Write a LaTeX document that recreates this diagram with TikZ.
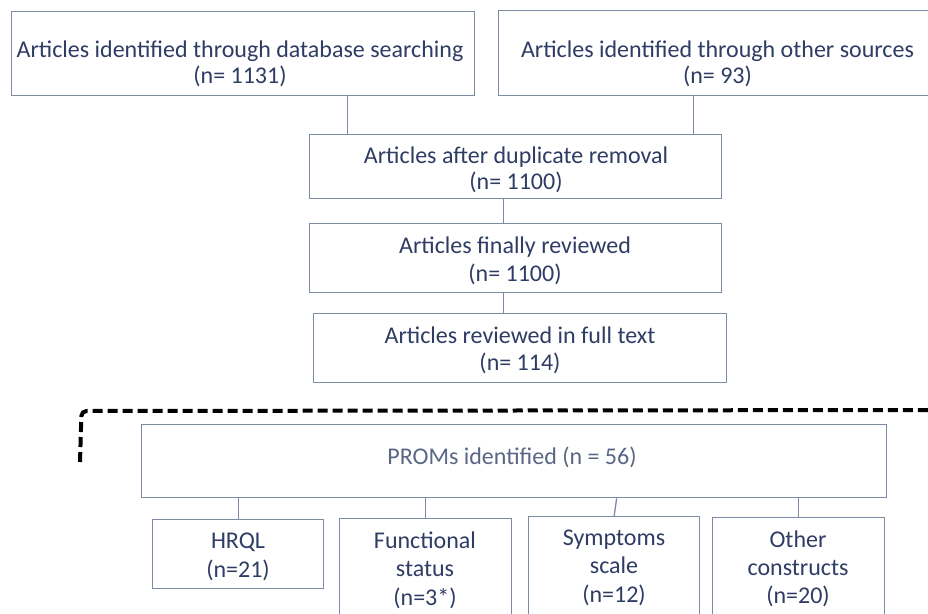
\documentclass[tikz,border=0pt]{standalone}
\usepackage{fontspec}
\setmainfont{Carlito}
\definecolor{txtc}{HTML}{2F3C64}
\definecolor{lightc}{HTML}{5A6685}
\definecolor{linec}{HTML}{7D8AA3}
\begin{document}
\begin{tikzpicture}[x=1pt,y=-1pt,
  box/.style={draw=linec, line width=1.3pt, fill=white, inner sep=0pt, anchor=north west},
  txt/.style={font=\fontsize{24}{#1}\selectfont, text=txtc, align=center, inner sep=0pt, anchor=north},
  txt/.default=27,
  conn/.style={draw=linec, line width=1.3pt},
  frame/.style={draw=black, line width=4pt, dash pattern=on 10pt off 5pt, rounded corners=5pt}]
\useasboundingbox (0,0) rectangle (928,613);
\clip (0,0) rectangle (928,613);
\fill[white] (0,0) rectangle (928,613);

% boxes
\node[box, minimum width=463pt, minimum height=84pt] (b1) at (11,11) {};
\node[box, minimum width=442pt, minimum height=85pt] (b2) at (498,10) {};
\node[box, minimum width=412pt, minimum height=64pt] (b3) at (309,134) {};
\node[box, minimum width=412pt, minimum height=69pt] (b4) at (309,223) {};
\node[box, minimum width=413pt, minimum height=69pt] (b5) at (313,313) {};
\node[box, minimum width=745pt, minimum height=73pt] (p) at (141,424) {};
\node[box, minimum width=171pt, minimum height=69pt] (s1) at (152,519) {};
\node[box, minimum width=172pt, minimum height=122pt] (s2) at (339,518) {};
\node[box, minimum width=171pt, minimum height=124pt] (s3) at (528,516) {};
\node[box, minimum width=172pt, minimum height=123pt] (s4) at (712,517) {};

% texts
\node[txt=26] (t1) at (240,38.8) {\strut Articles identified through database searching\\\strut(n= 1131)};
\node[txt=26] (t2) at (717.5,38.8) {\strut Articles identified through other sources\\\strut(n= 93)};
\node[txt=25] (t3) at (516,145.5) {\strut Articles after duplicate removal\\\strut(n= 1100)};
\node[txt=28] (t4) at (515,233.4) {\strut Articles finally reviewed\\\strut(n= 1100)};
\node[txt=27] (t5) at (520,324.1) {\strut Articles reviewed in full text\\\strut(n= 114)};
\node[txt=27, text=lightc] (tp) at (512,445.1) {\strut PROMs identified (n = 56)};
\node[txt=29] (ts1) at (238,527.7) {\strut HRQL\\\strut(n=21)};
\node[txt=28.5] (ts2) at (425,528.05) {\strut Functional\\\strut status\\\strut(n=3*)};
\node[txt=28.5] (ts3) at (614,525.05) {\strut Symptoms\\\strut scale\\\strut(n=12)};
\node[txt=28] (ts4) at (798,527.4) {\strut Other\\\strut constructs\\\strut(n=20)};

% connectors
\draw[conn] ([xshift=104.5pt]b1.south) -- ([xshift=104.5pt]b1.south |- b3.north);
\draw[conn] ([xshift=-26pt]b2.south) -- ([xshift=-26pt]b2.south |- b3.north);
\draw[conn] ([xshift=-12pt]b3.south) -- ([xshift=-12pt]b3.south |- b4.north);
\draw[conn] ([xshift=-12pt]b4.south) -- ([xshift=-12pt]b4.south |- b5.north);
\draw[conn] (s1.north |- p.south) -- (s1.north);
\draw[conn] (s2.north |- p.south) -- (s2.north);
\draw[conn] ([xshift=2.5pt]s3.north |- p.south) -- (s3.north);
\draw[conn] (s4.north |- p.south) -- (s4.north);

% dashed frame
\coordinate (f1) at (80,462);
\coordinate (f2) at (81.5,411);
\coordinate (f3) at (940,410);
\draw[frame] (f1) -- (f2) -- (f3);
\end{tikzpicture}
\end{document}
